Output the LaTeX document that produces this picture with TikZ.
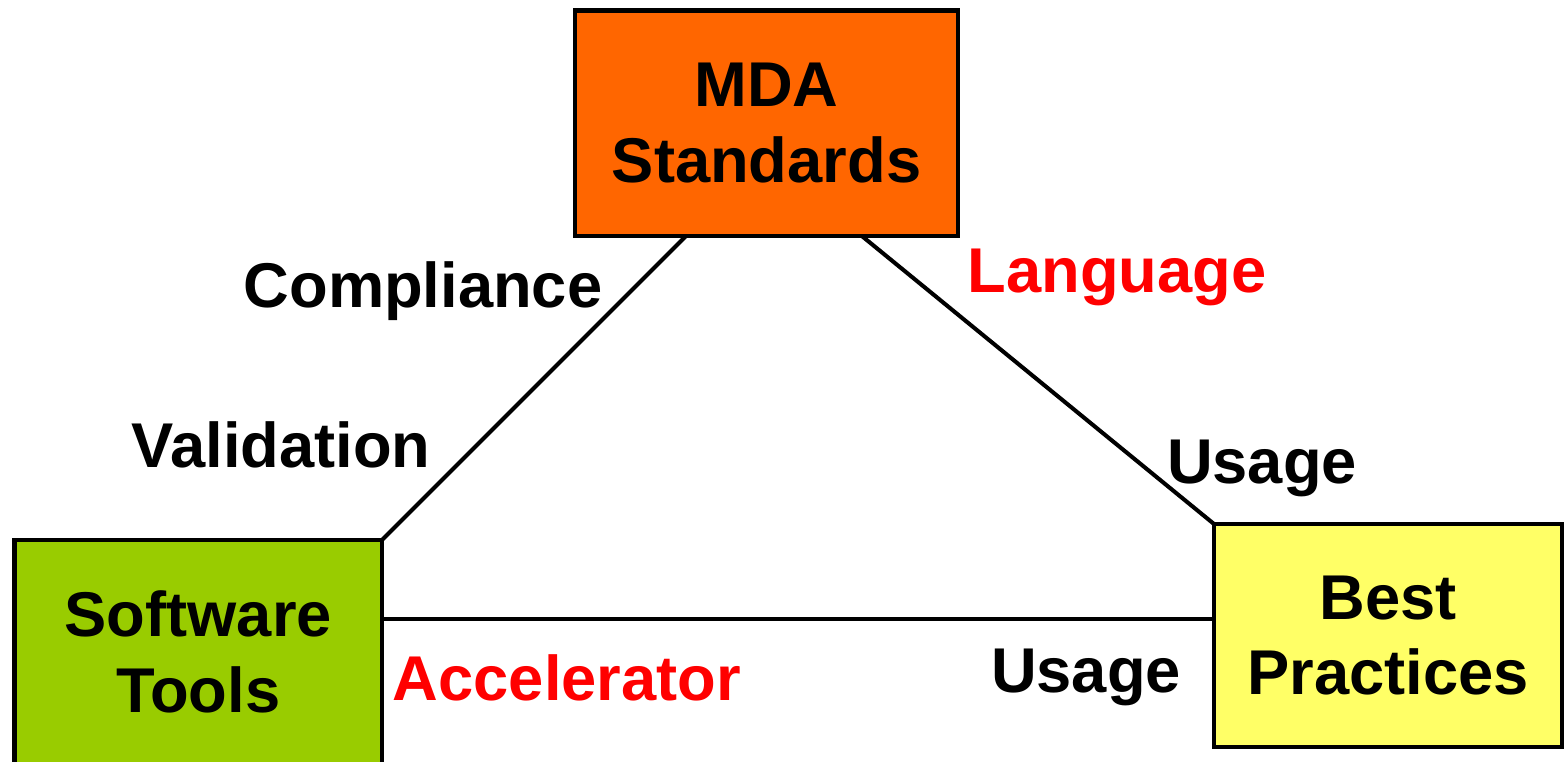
\documentclass[tikz,border=0pt]{standalone}
\usepackage{fontspec}
\setmainfont{Liberation Sans}
\usepackage{tikz}
\usetikzlibrary{calc}
\usetikzlibrary{positioning}

\definecolor{mdaorange}{HTML}{FF6600}
\definecolor{toolgreen}{HTML}{99CC00}
\definecolor{practyellow}{HTML}{FFFF66}

\begin{document}
\begin{tikzpicture}[
		box/.style={draw=black, line width=1.4pt, outer sep=0pt, inner sep=0pt, align=center,
			font=\fontsize{18}{21.5}\selectfont\bfseries},
		lbl/.style={anchor=base, inner sep=0pt, font=\fontsize{18}{21.5}\selectfont\bfseries},
		link/.style={line width=1.15pt}
	]
		\useasboundingbox (0,0) rectangle (15.65,7.61);
		
		% the three corners
		\node[box, fill=mdaorange, minimum width=3.83cm, minimum height=2.255cm] (mda) at (7.665,6.3775) {MDA\\Standards};
		\node[box, fill=toolgreen, minimum width=3.675cm, minimum height=2.24cm] (sw) at (1.9825,1.09) {Software\\Tools};
		\node[box, fill=practyellow, minimum width=3.48cm, minimum height=2.23cm] (bp) at (13.88,1.255) {Best\\Practices};
		
		% connectors
		\draw[link] ($(mda.south west)!0.29!(mda.south east)$) -- (sw.north east);
		\draw[link] ($(mda.south west)!0.749!(mda.south east)$) -- (bp.north west);
		\coordinate (acc) at ($(sw.north east)!0.353!(sw.south east)$);
		\draw[link] (acc) -- (acc -| bp.west);
		
		% labels
		\node[lbl] (compl) at (4.23,4.54) {Compliance};
		\node[lbl] (valid) at (2.81,2.94) {Validation};
		\node[lbl, red] (lang) at (11.17,4.69) {Language};
		\node[lbl] (use1) at (12.62,2.78) {Usage};
		\node[lbl] (use2) at (10.86,0.69) {Usage};
		\node[lbl, red] (accel) at (5.67,0.61) {Accelerator};
	\end{tikzpicture}
\end{document}
